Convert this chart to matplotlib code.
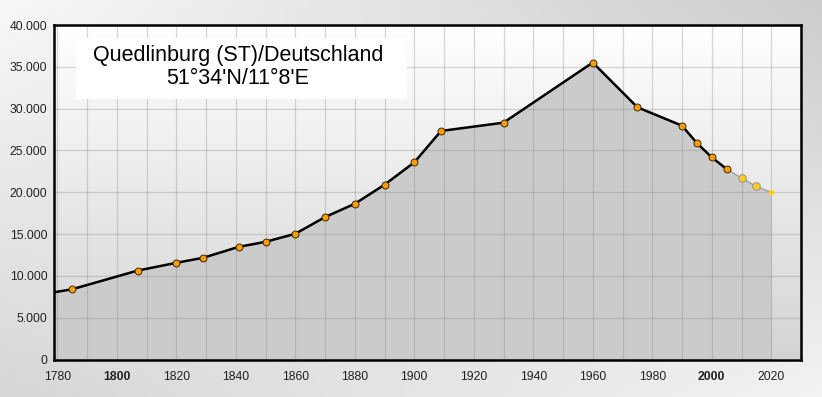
import numpy as np
import matplotlib.pyplot as plt
from matplotlib.patches import Rectangle
from matplotlib.ticker import FuncFormatter

plt.rcParams['font.family'] = ['Liberation Sans', 'DejaVu Sans']

# census values (solid black line, orange markers)
years = [1770, 1785, 1807, 1820, 1829, 1841, 1850, 1860, 1870, 1880, 1890,
         1900, 1909, 1930, 1960, 1975, 1990, 1995, 2000, 2005]
pop = [7500, 8400, 10630, 11560, 12160, 13470, 14070, 15030, 17030, 18620, 20900,
       23570, 27330, 28320, 35510, 30160, 27960, 25890, 24170, 22780]
# projection (grey line, yellow markers)
proj_years = [2005, 2010, 2015, 2020]
proj_pop = [22780, 21700, 20700, 19980]

title1 = "Quedlinburg (ST)/Deutschland"
title2 = "51°34'N/11°8'E"

W, H = 822, 397
fig = plt.figure(figsize=(W / 100, H / 100), dpi=100)

# figure background gradient
bg = fig.add_axes([0, 0, 1, 1], zorder=-10)
u = np.linspace(0, 1, 200)
X, Y = np.meshgrid(u, u)
tl, tr, bl, br = 0.97, 0.80, 0.84, 0.95
g = (tl * (1 - X) * Y + tr * X * Y + bl * (1 - X) * (1 - Y) + br * X * (1 - Y))
bg.imshow(g, cmap='gray', vmin=0, vmax=1, origin='lower', extent=[0, 1, 0, 1],
          aspect='auto')
bg.axis('off')

ax = fig.add_axes([54.3 / W, (H - 359.5) / H, 746.7 / W, 334.5 / H])
ax.patch.set_alpha(0)
# plot area vertical gradient
ag = np.linspace(0.83, 0.995, 100).reshape(-1, 1)
ax.imshow(ag, cmap='gray', vmin=0, vmax=1, origin='lower', extent=[0, 1, 0, 1],
          transform=ax.transAxes, aspect='auto', zorder=0)

all_years = years + proj_years[1:]
all_pop = pop + proj_pop[1:]
ax.fill_between(all_years, all_pop, 0, color='#cbcbcb', lw=0, zorder=1)
ax.plot(proj_years, proj_pop, color='#9a9a9a', lw=0.9, zorder=2)
ax.plot(years, pop, color='black', lw=1.8, zorder=3,
        marker='o', ms=5, mfc='#ff9c00', mec='#3a2a10', mew=0.7)
ax.plot(proj_years[1:3], proj_pop[1:3], ls='none', marker='o', ms=5.5,
        mfc='#ffcc1a', mec='#9a9a9a', mew=0.8, zorder=4)
ax.plot(proj_years[3:], proj_pop[3:], ls='none', marker='o', ms=4,
        mfc='#ffd21a', mec='none', zorder=4)

ax.set_xlim(1779, 2030)
ax.set_ylim(0, 40000)
ax.set_xticks(range(1780, 2021, 20))
ax.set_xticks(range(1780, 2031, 10), minor=True)
ax.set_yticks(range(0, 40001, 5000))
ax.yaxis.set_major_formatter(FuncFormatter(lambda v, p: f"{int(v):,}".replace(',', '.')))
ax.set_axisbelow('line')
ax.grid(True, which='both', color='#888888', alpha=0.33, lw=0.9)
ax.tick_params(which='both', length=0, labelsize=8.8, labelcolor='#222222')
ax.tick_params(axis='x', pad=8)
ax.tick_params(axis='y', pad=5)
for lab in ax.get_xticklabels():
    if lab.get_text() in ('1800', '2000'):
        lab.set_fontweight('bold')
for s in ax.spines.values():
    s.set_linewidth(1.8)
    s.set_color('black')
    s.set_zorder(6)

ax.add_patch(Rectangle((0.029, 0.779), 0.443, 0.182, transform=ax.transAxes,
                       facecolor='white', edgecolor='none', zorder=5))
ax.text(0.246, 0.892, title1, transform=ax.transAxes, ha='center', va='baseline',
        fontsize=15.5, color='black', zorder=6)
ax.text(0.246, 0.824, title2, transform=ax.transAxes, ha='center', va='baseline',
        fontsize=15.5, color='black', zorder=6)

fig.savefig('out.png', dpi=100)
